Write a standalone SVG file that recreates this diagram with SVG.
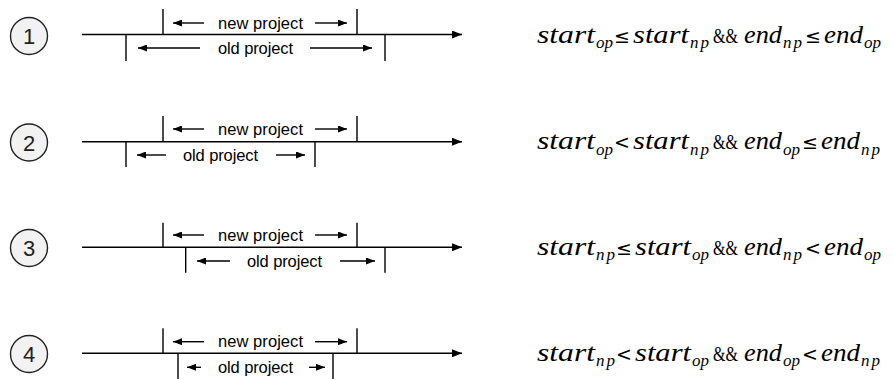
<svg xmlns="http://www.w3.org/2000/svg" width="893" height="379" viewBox="0 0 893 379">
<defs>
<marker id="ah" viewBox="0 0 9 7" refX="9" refY="3.5" markerWidth="9" markerHeight="7" markerUnits="userSpaceOnUse" orient="auto">
<path d="M0,0 L9,3.5 L0,7 z" fill="#000"/>
</marker>
<marker id="ahBig" viewBox="0 0 10 8" refX="10" refY="4" markerWidth="10" markerHeight="8" markerUnits="userSpaceOnUse" orient="auto">
<path d="M0,0 L10,4 L0,8 z" fill="#000"/>
</marker>
<style>
.ln{stroke:#000;stroke-width:1.4;fill:none}
.ar{stroke:#000;stroke-width:1.4;fill:none;marker-end:url(#ah)}
.axis{stroke:#000;stroke-width:1.4;fill:none;marker-end:url(#ahBig)}
.lbl{font-family:"Liberation Sans",Arial,sans-serif;font-size:16.5px;fill:#000}
.num{font-family:"Liberation Sans",Arial,sans-serif;font-size:22px;fill:#222;text-anchor:middle}
.circ{fill:#f2f2f2;stroke:#222;stroke-width:1.4}
.v{font-family:"Liberation Serif","Times New Roman",serif;font-style:italic;font-size:25px;fill:#000}
.s{font-family:"Liberation Serif","Times New Roman",serif;font-style:italic;font-size:17px;fill:#000}
.op{font-family:"DejaVu Sans",sans-serif;font-size:19px;fill:#000}
.amp{font-family:"Liberation Serif","Times New Roman",serif;font-size:21px;fill:#000}
</style>
</defs>

<!-- Case 1 -->
<g id="case1-label">
<circle class="circ" cx="29" cy="36" r="18.5"/>
<text class="num" x="29" y="44">1</text>
</g>
<g id="case1-timeline">
<line class="axis" x1="82" y1="34.5" x2="462" y2="34.5"/>
<line class="ln" x1="163" y1="9" x2="163" y2="34.5"/>
<line class="ln" x1="357" y1="9" x2="357" y2="34.5"/>
<line class="ln" x1="126" y1="34.5" x2="126" y2="61"/>
<line class="ln" x1="385" y1="34.5" x2="385" y2="61"/>
<line class="ar" x1="204" y1="23" x2="173" y2="23"/>
<line class="ar" x1="315" y1="23" x2="347" y2="23"/>
<text class="lbl" x="218" y="28.5" textLength="85">new project</text>
<line class="ar" x1="200" y1="48" x2="138" y2="48"/>
<line class="ar" x1="310" y1="48" x2="372" y2="48"/>
<text class="lbl" x="218" y="53.5" textLength="75">old project</text>
</g>
<g id="case1-formula">
<text class="v" x="537" y="42.5" textLength="58" lengthAdjust="spacingAndGlyphs">start</text>
<text class="s" x="596" y="48">op</text>
<text class="op" x="614" y="42.5">≤</text>
<text class="v" x="633" y="42.5" textLength="56" lengthAdjust="spacingAndGlyphs">start</text>
<text class="s" x="690" y="48" textLength="19">np</text>
<text class="amp" x="713" y="42.5" textLength="25" lengthAdjust="spacingAndGlyphs">&amp;&amp;</text>
<text class="v" x="744" y="42.5" textLength="38" lengthAdjust="spacingAndGlyphs">end</text>
<text class="s" x="783" y="48" textLength="19">np</text>
<text class="op" x="805" y="42.5">≤</text>
<text class="v" x="824" y="42.5" textLength="39" lengthAdjust="spacingAndGlyphs">end</text>
<text class="s" x="864" y="48">op</text>
</g>

<!-- Case 2 -->
<g id="case2-label">
<circle class="circ" cx="29" cy="142.5" r="18.5"/>
<text class="num" x="29" y="150.5">2</text>
</g>
<g id="case2-timeline">
<line class="axis" x1="82" y1="141.7" x2="462" y2="141.7"/>
<line class="ln" x1="163" y1="116" x2="163" y2="141.7"/>
<line class="ln" x1="357" y1="116" x2="357" y2="141.7"/>
<line class="ln" x1="126" y1="141.7" x2="126" y2="167"/>
<line class="ln" x1="315" y1="141.7" x2="315" y2="167"/>
<line class="ar" x1="204" y1="129" x2="173" y2="129"/>
<line class="ar" x1="315" y1="129" x2="347" y2="129"/>
<text class="lbl" x="218" y="134.5" textLength="85">new project</text>
<line class="ar" x1="166" y1="155" x2="137" y2="155"/>
<line class="ar" x1="276" y1="155" x2="305" y2="155"/>
<text class="lbl" x="183" y="160.5" textLength="75">old project</text>
</g>
<g id="case2-formula">
<text class="v" x="537" y="149" textLength="58" lengthAdjust="spacingAndGlyphs">start</text>
<text class="s" x="596" y="154.5">op</text>
<text class="op" x="614" y="149">&lt;</text>
<text class="v" x="633" y="149" textLength="56" lengthAdjust="spacingAndGlyphs">start</text>
<text class="s" x="690" y="154.5" textLength="19">np</text>
<text class="amp" x="713" y="149" textLength="25" lengthAdjust="spacingAndGlyphs">&amp;&amp;</text>
<text class="v" x="744" y="149" textLength="38" lengthAdjust="spacingAndGlyphs">end</text>
<text class="s" x="783" y="154.5">op</text>
<text class="op" x="802" y="149">≤</text>
<text class="v" x="821" y="149" textLength="39" lengthAdjust="spacingAndGlyphs">end</text>
<text class="s" x="861" y="154.5" textLength="19">np</text>
</g>

<!-- Case 3 -->
<g id="case3-label">
<circle class="circ" cx="29" cy="248" r="18.5"/>
<text class="num" x="29" y="256">3</text>
</g>
<g id="case3-timeline">
<line class="axis" x1="82" y1="247.3" x2="462" y2="247.3"/>
<line class="ln" x1="163" y1="222.7" x2="163" y2="247.3"/>
<line class="ln" x1="357" y1="222.7" x2="357" y2="247.3"/>
<line class="ln" x1="185.7" y1="247.3" x2="185.7" y2="272.7"/>
<line class="ln" x1="385" y1="247.3" x2="385" y2="272.7"/>
<line class="ar" x1="204" y1="235" x2="173" y2="235"/>
<line class="ar" x1="315" y1="235" x2="347" y2="235"/>
<text class="lbl" x="218" y="240.5" textLength="85">new project</text>
<line class="ar" x1="230" y1="261" x2="197" y2="261"/>
<line class="ar" x1="340" y1="261" x2="375" y2="261"/>
<text class="lbl" x="247" y="266.5" textLength="75">old project</text>
</g>
<g id="case3-formula">
<text class="v" x="537" y="254.5" textLength="58" lengthAdjust="spacingAndGlyphs">start</text>
<text class="s" x="596" y="260" textLength="19">np</text>
<text class="op" x="616" y="254.5">≤</text>
<text class="v" x="635" y="254.5" textLength="56" lengthAdjust="spacingAndGlyphs">start</text>
<text class="s" x="692" y="260">op</text>
<text class="amp" x="713" y="254.5" textLength="25" lengthAdjust="spacingAndGlyphs">&amp;&amp;</text>
<text class="v" x="744" y="254.5" textLength="38" lengthAdjust="spacingAndGlyphs">end</text>
<text class="s" x="783" y="260" textLength="19">np</text>
<text class="op" x="805" y="254.5">&lt;</text>
<text class="v" x="824" y="254.5" textLength="39" lengthAdjust="spacingAndGlyphs">end</text>
<text class="s" x="864" y="260">op</text>
</g>

<!-- Case 4 -->
<g id="case4-label">
<circle class="circ" cx="29" cy="354" r="18.5"/>
<text class="num" x="29" y="362">4</text>
</g>
<g id="case4-timeline">
<line class="axis" x1="82" y1="353.3" x2="462" y2="353.3"/>
<line class="ln" x1="163" y1="328.3" x2="163" y2="353.3"/>
<line class="ln" x1="357" y1="328.3" x2="357" y2="353.3"/>
<line class="ln" x1="178" y1="353.3" x2="178" y2="380"/>
<line class="ln" x1="333" y1="353.3" x2="333" y2="380"/>
<line class="ar" x1="204" y1="341.7" x2="173" y2="341.7"/>
<line class="ar" x1="315" y1="341.7" x2="347" y2="341.7"/>
<text class="lbl" x="218" y="347.3" textLength="85">new project</text>
<line class="ar" x1="201" y1="367.3" x2="187" y2="367.3"/>
<line class="ar" x1="309" y1="367.3" x2="325" y2="367.3"/>
<text class="lbl" x="218" y="372.8" textLength="75">old project</text>
</g>
<g id="case4-formula">
<text class="v" x="537" y="360.5" textLength="58" lengthAdjust="spacingAndGlyphs">start</text>
<text class="s" x="596" y="366" textLength="19">np</text>
<text class="op" x="616" y="360.5">&lt;</text>
<text class="v" x="635" y="360.5" textLength="56" lengthAdjust="spacingAndGlyphs">start</text>
<text class="s" x="692" y="366">op</text>
<text class="amp" x="713" y="360.5" textLength="25" lengthAdjust="spacingAndGlyphs">&amp;&amp;</text>
<text class="v" x="744" y="360.5" textLength="38" lengthAdjust="spacingAndGlyphs">end</text>
<text class="s" x="783" y="366">op</text>
<text class="op" x="802" y="360.5">&lt;</text>
<text class="v" x="821" y="360.5" textLength="39" lengthAdjust="spacingAndGlyphs">end</text>
<text class="s" x="861" y="366" textLength="19">np</text>
</g>
</svg>
